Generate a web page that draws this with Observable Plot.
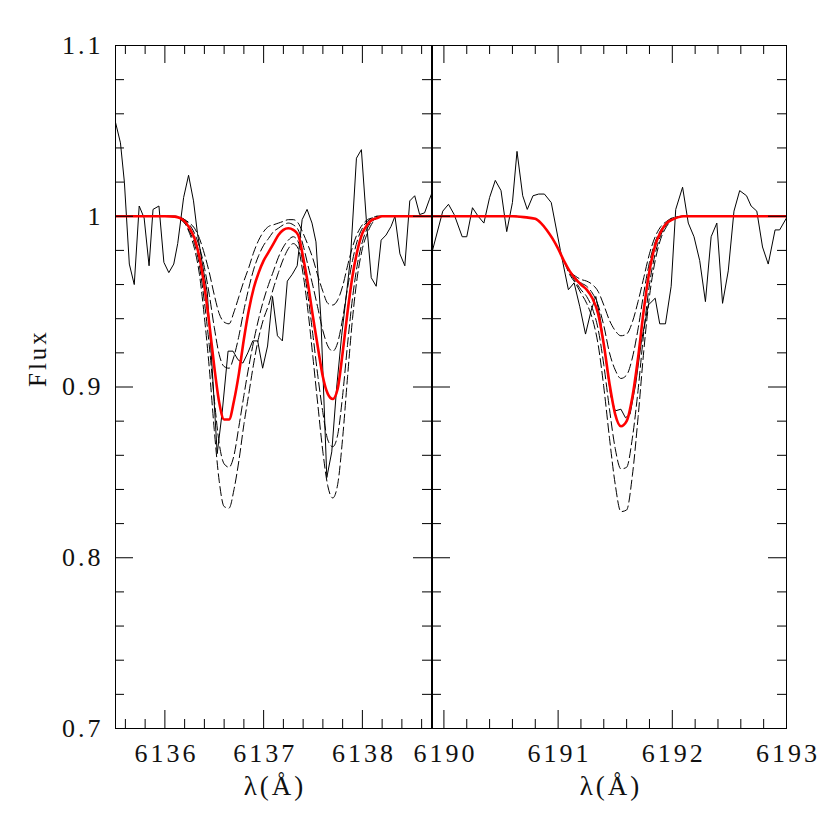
<!DOCTYPE html>
<html><head><meta charset="utf-8">
<script src="https://cdn.jsdelivr.net/npm/d3@7"></script>
<script src="https://cdn.jsdelivr.net/npm/@observablehq/plot@0.6"></script>
<style>
body{margin:0;background:#fff;}
#wrap{position:relative;width:830px;height:830px;background:#fff;}
#wrap > *{position:absolute;top:0;overflow:visible;}
#wrap text{font-family:'Liberation Serif', serif;letter-spacing:3px;}
</style></head><body><div id="wrap"></div>
<script>
// ---------- axis values ----------
const yDomain = [0.7, 1.1];
const yMajor = [0.7, 0.8, 0.9, 1.0, 1.1];
const yMajorText = ["0.7", "0.8", "0.9", "1", "1.1"];
const yMinor = [0.72, 0.74, 0.76, 0.78, 0.82, 0.84, 0.86, 0.88, 0.92, 0.94, 0.96, 0.98, 1.02, 1.04, 1.06, 1.08];

const xDomainL = [6135.5, 6138.7];
const xMajorL = [6136, 6137, 6138];
const xMinorL = [6135.6, 6135.8, 6136.2, 6136.4, 6136.6, 6136.8, 6137.2, 6137.4, 6137.6, 6137.8, 6138.2, 6138.4, 6138.6];

const xDomainR = [6189.9, 6193];
const xMajorR = [6190, 6191, 6192, 6193];
const xMinorR = [6190.2, 6190.4, 6190.6, 6190.8, 6191.2, 6191.4, 6191.6, 6191.8, 6192.2, 6192.4, 6192.6, 6192.8];

const xTitle = "λ(Å)";
const yTitle = "Flux";

// ---------- left panel: observed spectrum ----------
const obsLamL = [6135.50, 6135.55, 6135.59, 6135.64, 6135.69, 6135.74, 6135.79, 6135.84, 6135.88, 6135.94,
  6135.99, 6136.04, 6136.09, 6136.13, 6136.19, 6136.24, 6136.29, 6136.33, 6136.38, 6136.43,
  6136.48, 6136.53, 6136.58, 6136.64, 6136.69, 6136.74, 6136.79, 6136.84, 6136.89, 6136.94,
  6136.99, 6137.04, 6137.09, 6137.14, 6137.19, 6137.24, 6137.29, 6137.34, 6137.39, 6137.44,
  6137.49, 6137.53, 6137.58, 6137.64, 6137.69, 6137.74, 6137.79, 6137.84, 6137.88, 6137.94,
  6137.99, 6138.04, 6138.09, 6138.14, 6138.19, 6138.24, 6138.29, 6138.33, 6138.38, 6138.43,
  6138.48, 6138.53, 6138.58, 6138.63, 6138.68, 6138.72];
const obsFluxL = [1.055, 1.043, 1.020, 0.972, 0.960, 1.006, 0.999, 0.971, 1.004, 1.006,
  0.973, 0.967, 0.972, 0.984, 1.011, 1.024, 1.009, 0.990, 0.972, 0.955,
  0.910, 0.861, 0.885, 0.921, 0.921, 0.916, 0.914, 0.920, 0.927, 0.927,
  0.911, 0.924, 0.953, 0.930, 0.927, 0.962, 0.966, 0.971, 0.998, 1.004,
  0.996, 0.985, 0.940, 0.847, 0.862, 0.900, 0.930, 0.955, 0.976, 1.034,
  1.039, 0.998, 0.964, 0.959, 0.986, 0.989, 0.994, 1.000, 0.978, 0.971,
  1.009, 1.012, 1.001, 1.002, 1.010, 1.016];

// ---------- left panel: synthetic models ----------
const modLamL = [6135.5, 6136.0, 6136.1, 6136.2, 6136.25, 6136.3, 6136.35, 6136.4, 6136.45, 6136.5,
  6136.55, 6136.6, 6136.65, 6136.7, 6136.75, 6136.8, 6136.85, 6136.9, 6136.95, 6137.0,
  6137.05, 6137.1, 6137.15, 6137.2, 6137.25, 6137.3, 6137.35, 6137.4, 6137.45, 6137.5,
  6137.55, 6137.6, 6137.65, 6137.7, 6137.75, 6137.8, 6137.85, 6137.9, 6137.95, 6138.0,
  6138.05, 6138.1, 6138.15, 6138.2, 6138.3, 6138.7];
const bestL = [1.0, 1.0, 0.9998, 0.997, 0.993, 0.987, 0.976, 0.959, 0.937, 0.912,
  0.891, 0.881, 0.881, 0.892, 0.908, 0.928, 0.945, 0.958, 0.967, 0.974,
  0.979, 0.984, 0.989, 0.992, 0.993, 0.992, 0.989, 0.976, 0.960, 0.941,
  0.923, 0.906, 0.896, 0.893, 0.899, 0.920, 0.944, 0.965, 0.980, 0.990,
  0.995, 0.998, 0.999, 1.0, 1.0, 1.0];
const dashA_L = [1.0, 1.0, 1.0, 0.998, 0.996, 0.993, 0.987, 0.978, 0.967, 0.954,
  0.943, 0.938, 0.937, 0.944, 0.953, 0.962, 0.970, 0.979, 0.986, 0.991,
  0.994, 0.995, 0.996, 0.997, 0.998, 0.998, 0.996, 0.990, 0.983, 0.975,
  0.965, 0.956, 0.949, 0.948, 0.951, 0.959, 0.971, 0.982, 0.990, 0.995,
  0.998, 0.999, 1.0, 1.0, 1.0, 1.0];
const dashB_L = [1.0, 1.0, 1.0, 0.998, 0.995, 0.990, 0.982, 0.970, 0.954, 0.935,
  0.919, 0.912, 0.911, 0.918, 0.930, 0.945, 0.958, 0.969, 0.977, 0.983,
  0.987, 0.991, 0.993, 0.995, 0.996, 0.995, 0.992, 0.983, 0.971, 0.959,
  0.946, 0.933, 0.924, 0.921, 0.926, 0.940, 0.958, 0.974, 0.986, 0.993,
  0.997, 0.999, 1.0, 1.0, 1.0, 1.0];
const dashC_L = [1.0, 1.0, 0.9997, 0.996, 0.991, 0.984, 0.971, 0.950, 0.924, 0.893,
  0.867, 0.855, 0.853, 0.860, 0.877, 0.895, 0.912, 0.927, 0.940, 0.951,
  0.960, 0.968, 0.976, 0.982, 0.986, 0.988, 0.985, 0.972, 0.953, 0.930,
  0.906, 0.885, 0.869, 0.865, 0.872, 0.895, 0.925, 0.952, 0.972, 0.985,
  0.993, 0.997, 0.999, 1.0, 1.0, 1.0];
const dashD_L = [1.0, 1.0, 0.9996, 0.996, 0.990, 0.981, 0.966, 0.941, 0.911, 0.875,
  0.845, 0.830, 0.829, 0.840, 0.857, 0.878, 0.896, 0.914, 0.929, 0.940,
  0.948, 0.958, 0.967, 0.975, 0.981, 0.984, 0.981, 0.966, 0.944, 0.917,
  0.889, 0.862, 0.842, 0.835, 0.843, 0.870, 0.906, 0.940, 0.965, 0.981,
  0.990, 0.996, 0.999, 1.0, 1.0, 1.0];

// ---------- right panel: observed spectrum ----------
const obsLamR = [6189.90, 6189.99, 6190.04, 6190.09, 6190.16, 6190.20, 6190.25, 6190.30, 6190.35, 6190.40,
  6190.45, 6190.50, 6190.55, 6190.60, 6190.64, 6190.69, 6190.73, 6190.78, 6190.83, 6190.88,
  6190.94, 6191.02, 6191.09, 6191.14, 6191.19, 6191.24, 6191.29, 6191.33, 6191.37, 6191.42,
  6191.46, 6191.50, 6191.55, 6191.59, 6191.63, 6191.68, 6191.73, 6191.79, 6191.85, 6191.89,
  6191.94, 6191.99, 6192.03, 6192.09, 6192.14, 6192.19, 6192.24, 6192.29, 6192.34, 6192.39,
  6192.44, 6192.49, 6192.54, 6192.59, 6192.65, 6192.69, 6192.74, 6192.79, 6192.84, 6192.90,
  6192.94, 6193.00];
const obsFluxR = [0.980, 1.003, 1.007, 1.001, 0.988, 0.988, 1.005, 1.000, 0.996, 1.011,
  1.021, 1.015, 0.991, 1.008, 1.038, 1.012, 1.004, 1.012, 1.013, 1.013,
  1.008, 0.980, 0.957, 0.961, 0.947, 0.931, 0.945, 0.953, 0.940, 0.915,
  0.895, 0.886, 0.887, 0.882, 0.884, 0.902, 0.927, 0.948, 0.952, 0.937,
  0.937, 0.959, 1.004, 1.017, 0.996, 0.988, 0.974, 0.950, 0.988, 0.996,
  0.949, 0.968, 1.003, 1.015, 1.012, 1.006, 1.003, 0.982, 0.972, 0.992,
  0.992, 0.999];

// ---------- right panel: synthetic models ----------
const modLamR = [6189.9, 6190.6, 6190.7, 6190.8, 6190.85, 6190.9, 6190.95, 6191.0, 6191.05, 6191.1,
  6191.15, 6191.2, 6191.25, 6191.3, 6191.35, 6191.4, 6191.45, 6191.5, 6191.55, 6191.6,
  6191.65, 6191.7, 6191.75, 6191.8, 6191.85, 6191.9, 6191.95, 6192.0, 6192.1, 6193.0];
const bestR = [1.0, 1.0, 0.9995, 0.9985, 0.996, 0.992, 0.987, 0.981, 0.974, 0.968,
  0.9635, 0.960, 0.957, 0.952, 0.943, 0.925, 0.902, 0.884, 0.877, 0.880,
  0.894, 0.917, 0.945, 0.968, 0.983, 0.991, 0.996, 0.998, 1.0, 1.0];
const dashA_R = [1.0, 1.0, 0.9995, 0.9985, 0.996, 0.992, 0.987, 0.981, 0.974, 0.968,
  0.965, 0.963, 0.962, 0.960, 0.956, 0.948, 0.939, 0.933, 0.930, 0.931,
  0.938, 0.950, 0.964, 0.978, 0.988, 0.994, 0.997, 0.999, 1.0, 1.0];
const dashB_R = [1.0, 1.0, 0.9995, 0.9985, 0.996, 0.992, 0.987, 0.981, 0.974, 0.968,
  0.964, 0.961, 0.959, 0.955, 0.948, 0.936, 0.920, 0.910, 0.905, 0.907,
  0.917, 0.934, 0.955, 0.973, 0.985, 0.992, 0.996, 0.999, 1.0, 1.0];
const dashC_R = [1.0, 1.0, 0.9995, 0.9985, 0.996, 0.992, 0.987, 0.981, 0.974, 0.967,
  0.962, 0.957, 0.953, 0.946, 0.934, 0.913, 0.887, 0.864, 0.852, 0.853,
  0.870, 0.898, 0.932, 0.960, 0.978, 0.989, 0.995, 0.998, 1.0, 1.0];
const dashD_R = [1.0, 1.0, 0.9995, 0.9985, 0.996, 0.992, 0.987, 0.981, 0.974, 0.966,
  0.961, 0.955, 0.949, 0.940, 0.925, 0.900, 0.870, 0.843, 0.827, 0.828,
  0.848, 0.882, 0.921, 0.953, 0.974, 0.987, 0.994, 0.998, 1.0, 1.0];

// ---------- layout ----------
const H = 830, MT = 45, MB = 102;
const plotH = H - MT - MB;
const TMAJ = 18, TMIN = 9;
const FONT = "Liberation Serif";

const pts = (xs, ys) => xs.map((x, i) => ({x, y: ys[i]}));

function panel(o) {
  const plotW = o.width - o.ml - o.mr;
  const dashOpts = {x: "x", y: "y", stroke: "#000", strokeWidth: 1, strokeDasharray: "9,4", curve: "monotone-x", clip: true};
  const marks = [];
  for (const d of o.dashes) marks.push(Plot.line(pts(o.modLam, d), dashOpts));
  marks.push(Plot.line(pts(o.obsLam, o.obsFlux), {x: "x", y: "y", stroke: "#000", strokeWidth: 1, clip: true}));
  marks.push(Plot.line(pts(o.modLam, o.best), {x: "x", y: "y", stroke: "#ff0000", strokeWidth: 2.6, curve: "monotone-x", clip: true}));
  marks.push(Plot.frame({stroke: "#000", strokeWidth: 1}));
  // x ticks (bottom & top, pointing inward)
  marks.push(Plot.tickX(o.xMajor, {x: d => d, insetTop: plotH - TMAJ, stroke: "#000"}));
  marks.push(Plot.tickX(o.xMinor, {x: d => d, insetTop: plotH - TMIN, stroke: "#000"}));
  marks.push(Plot.tickX(o.xMajor, {x: d => d, insetBottom: plotH - TMAJ, stroke: "#000"}));
  marks.push(Plot.tickX(o.xMinor, {x: d => d, insetBottom: plotH - TMIN, stroke: "#000"}));
  // y ticks (left & right, pointing inward)
  marks.push(Plot.tickY(yMajor, {y: d => d, insetRight: plotW - TMAJ, stroke: "#000"}));
  marks.push(Plot.tickY(yMinor, {y: d => d, insetRight: plotW - TMIN, stroke: "#000"}));
  marks.push(Plot.tickY(yMajor, {y: d => d, insetLeft: plotW - TMAJ, stroke: "#000"}));
  marks.push(Plot.tickY(yMinor, {y: d => d, insetLeft: plotW - TMIN, stroke: "#000"}));
  // tick labels
  marks.push(Plot.axisX({ticks: o.xMajor, tickSize: 0, tickPadding: 15, tickFormat: d => String(d),
    fontSize: 26, fontFamily: FONT, fill: "#111", dx: 1.5, label: null}));
  if (o.yLabels) {
    marks.push(Plot.axisY({ticks: yMajor, tickSize: 0, tickPadding: 12, tickFormat: d => yMajorText[yMajor.indexOf(d)],
      fontSize: 26, fontFamily: FONT, fill: "#111", label: null}));
    marks.push(Plot.text([yTitle], {text: d => d, frameAnchor: "left", dx: -78, rotate: -90, fontSize: 25, fontFamily: FONT, fill: "#111"}));
  }
  marks.push(Plot.text([xTitle], {text: d => d, frameAnchor: "bottom", dy: 66, dx: 1.5, fontSize: 27, fontFamily: FONT, fill: "#111"}));
  const svg = Plot.plot({
    width: o.width, height: H,
    marginLeft: o.ml, marginRight: o.mr, marginTop: MT, marginBottom: MB,
    x: {domain: o.xDomain},
    y: {domain: yDomain, axis: o.yLabels ? undefined : null},
    style: {fontFamily: FONT, fontSize: "26px", background: "transparent", color: "#111", overflow: "visible"},
    marks
  });
  svg.style.left = o.left + "px";
  svg.style.overflow = "visible";
  return svg;
}

const wrap = document.getElementById("wrap");
wrap.appendChild(panel({
  left: 0, width: 432, ml: 115, mr: 1, xDomain: xDomainL,
  obsLam: obsLamL, obsFlux: obsFluxL, modLam: modLamL, best: bestL,
  dashes: [dashA_L, dashB_L, dashC_L, dashD_L],
  xMajor: xMajorL, xMinor: xMinorL, yLabels: true
}));
wrap.appendChild(panel({
  left: 431, width: 399, ml: 1, mr: 44, xDomain: xDomainR,
  obsLam: obsLamR, obsFlux: obsFluxR, modLam: modLamR, best: bestR,
  dashes: [dashA_R, dashB_R, dashC_R, dashD_R],
  xMajor: xMajorR, xMinor: xMinorR, yLabels: false
}));
</script></body></html>
